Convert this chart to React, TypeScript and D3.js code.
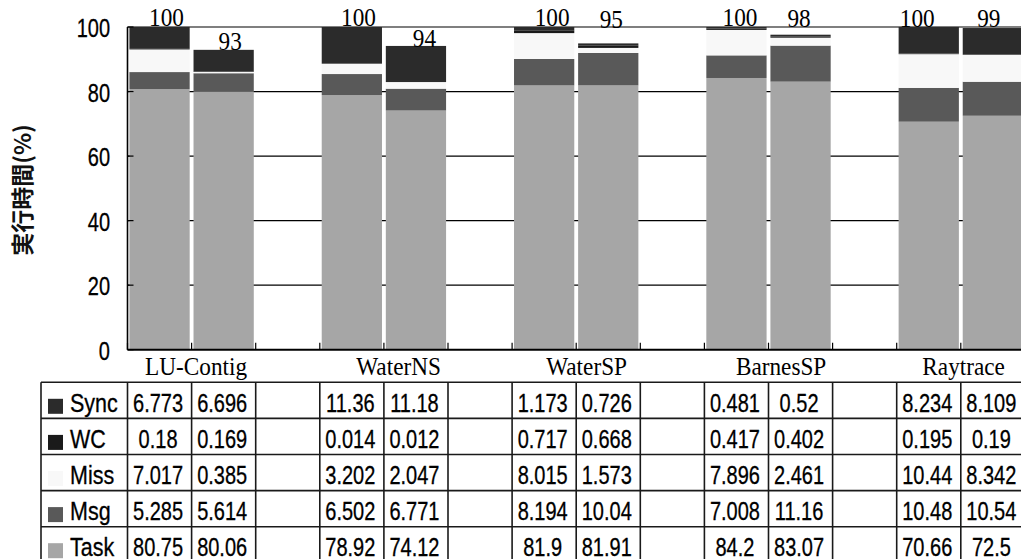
import React from "react";
import * as d3 from "d3";

const categories = ["LU-Contig", "WaterNS", "WaterSP", "BarnesSP", "Raytrace"];
const seriesKeys = ["Task", "Msg", "Miss", "WC", "Sync"];
const tableOrder = ["Sync", "WC", "Miss", "Msg", "Task"];

const syncValues = [6.773, 6.696, 11.36, 11.18, 1.173, 0.726, 0.481, 0.52, 8.234, 8.109];
const wcValues = [0.18, 0.169, 0.014, 0.012, 0.717, 0.668, 0.417, 0.402, 0.195, 0.19];
const missValues = [7.017, 0.385, 3.202, 2.047, 8.015, 1.573, 7.896, 2.461, 10.44, 8.342];
const msgValues = [5.285, 5.614, 6.502, 6.771, 8.194, 10.04, 7.008, 11.16, 10.48, 10.54];
const taskValues = [80.75, 80.06, 78.92, 74.12, 81.9, 81.91, 84.2, 83.07, 70.66, 72.5];
const totalLabels = ["100", "93", "100", "94", "100", "95", "100", "98", "100", "99"];
const yTicks = [0, 20, 40, 60, 80, 100];

// layout (not data)
const colors: Record<string, string> = {
  Task: "#a6a6a6",
  Msg: "#595959",
  Miss: "#f8f8f8",
  WC: "#1a1a1a",
  Sync: "#2b2b2b",
};
const labelNudges = [
  [7, -1], [6.5, 0], [6.7, -1], [8.5, 1], [8, -1],
  [3, -15], [3.5, -1], [-1.5, -8], [-11.5, 0], [-4, -0.7],
];
const catLabelDx = [5.5, 15.7, 11.4, 13.6, 3.8];

const W = 1021;
const H = 559;
const plotLeft = 127.5;
const groupStep = 192.3;
const plotRight = plotLeft + groupStep * categories.length;
const y0 = 349.7;
const y100 = 27;
const tableLeft = 41;
const tableTop = 382.3;
const rowH = 36.1;

const valuesByKey: Record<string, number[]> = {
  Sync: syncValues,
  WC: wcValues,
  Miss: missValues,
  Msg: msgValues,
  Task: taskValues,
};

const SANS = "'Liberation Sans', Arial, sans-serif";
const SERIF = "'Liberation Serif', 'Times New Roman', serif";

function CText(props: {
  x: number; y: number; anchor?: string; size: number; family: string; sx?: number; sw?: number; children: any;
}) {
  const { x, y, anchor = "middle", size, family, sx = 1, sw = 0, children } = props;
  return (
    <text
      transform={`translate(${x},${y}) scale(${sx},1)`}
      textAnchor={anchor as any}
      fontSize={size}
      fontFamily={family}
      fill="#000"
      stroke={sw > 0 ? "#000" : "none"}
      strokeWidth={sw}
    >
      {children}
    </text>
  );
}

export default function App() {
  const xGroup = d3.scaleBand<string>().domain(categories).range([plotLeft, plotRight]);
  const xSub = d3
    .scaleBand<string>()
    .domain(["a", "b", "gap"])
    .range([0, xGroup.bandwidth()])
    .paddingInner(0.06)
    .paddingOuter(0.03);
  const y = d3.scaleLinear().domain([0, 100]).range([y0, y100]);

  const bars = categories.flatMap((c, gi) =>
    ["a", "b"].map((s, si) => {
      const idx = gi * 2 + si;
      const row: any = { cat: c, sub: s, idx };
      seriesKeys.forEach((k) => (row[k] = valuesByKey[k][idx]));
      return row;
    })
  );
  const stacked = d3.stack<any>().keys(seriesKeys)(bars);

  const slotStep = xGroup.bandwidth() / 3;
  const slotEdges = d3.range(0, categories.length * 3 + 1).map((k) => plotLeft + k * slotStep);
  const rowEdges = d3.range(0, tableOrder.length + 1).map((k) => tableTop + k * rowH);

  const barX = (d: any) => (xGroup(d.cat) as number) + (xSub(d.sub) as number);

  return (
    <svg
      width={W}
      height={H}
      style={{ position: "absolute", left: 0, top: 0, background: "#fff" }}
    >
      <rect x={0} y={0} width={W} height={H} fill="#fff" />
      {/* gridlines */}
      {yTicks.filter((t) => t > 0).map((t) => (
        <line key={"g" + t} x1={plotLeft} x2={plotRight} y1={y(t)} y2={y(t)} stroke="#000" strokeWidth={1.2} />
      ))}
      {/* bars */}
      {stacked.map((layer) => (
        <g key={layer.key} fill={colors[layer.key]}>
          {layer.map((d: any, i: number) => (
            <rect
              key={i}
              x={barX(d.data)}
              width={xSub.bandwidth()}
              y={y(d[1])}
              height={Math.max(0, y(d[0]) - y(d[1]))}
            />
          ))}
        </g>
      ))}
      {/* axes */}
      <line x1={plotLeft} x2={plotLeft} y1={y100} y2={y0} stroke="#000" strokeWidth={1.6} />
      <line x1={plotLeft} x2={plotRight} y1={y0} y2={y0} stroke="#000" strokeWidth={2} />
      {yTicks.map((t) => (
        <g key={"yt" + t}>
          <line x1={plotLeft} x2={plotLeft + 6} y1={y(t)} y2={y(t)} stroke="#000" strokeWidth={1.2} />
          <CText x={110} y={y(t) + 10} anchor="end" size={25} family={SANS} sx={0.8} sw={0.3}>
            {t}
          </CText>
        </g>
      ))}
      {slotEdges.map((x, i) => (
        <line key={"xt" + i} x1={x} x2={x} y1={y0} y2={y0 - 7} stroke="#000" strokeWidth={1.2} />
      ))}
      {/* total labels */}
      {bars.map((d, i) => {
        const total = seriesKeys.reduce((s, k) => s + d[k], 0);
        const cx = barX(d) + xSub.bandwidth() / 2 + labelNudges[i][0];
        return (
          <CText key={"tl" + i} x={cx} y={y(total) + labelNudges[i][1]} size={25} family={SERIF} sx={0.93}>
            {totalLabels[i]}
          </CText>
        );
      })}
      {/* category labels */}
      {categories.map((c, gi) => {
        const cx = (xGroup(c) as number) + slotStep - 1 + catLabelDx[gi];
        return (
          <CText key={"cl" + c} x={cx} y={375} size={25} family={SERIF} sx={0.93}>
            {c}
          </CText>
        );
      })}
      {/* y axis title */}
      <text
        transform="translate(21,190) rotate(-90)"
        textAnchor="middle"
        dominantBaseline="central"
        fontSize={23}
        fontWeight={700}
        fontFamily="'Noto Sans CJK JP', sans-serif"
        fill="#111"
      >
        実行時間(%)
      </text>
      {/* table */}
      {rowEdges.map((ry, i) => (
        <line key={"rh" + i} x1={tableLeft} x2={plotRight} y1={ry} y2={ry} stroke="#1a1a1a" strokeWidth={1.6} />
      ))}
      <line x1={tableLeft} x2={tableLeft} y1={tableTop} y2={H + 10} stroke="#1a1a1a" strokeWidth={1.6} />
      {slotEdges.map((x, i) => (
        <line key={"cv" + i} x1={x} x2={x} y1={tableTop} y2={H + 10} stroke="#1a1a1a" strokeWidth={1.6} />
      ))}
      {tableOrder.map((k, ri) => {
        const top = rowEdges[ri];
        return (
          <g key={"row" + k}>
            <rect x={48} y={top + 16.5} width={15} height={15} fill={colors[k]} />
            <CText x={70} y={top + 29.5} anchor="start" size={25} family={SANS} sx={0.86} sw={0.3}>
              {k}
            </CText>
            {bars.map((d, bi) => (
              <CText
                key={bi}
                x={barX(d) + xSub.bandwidth() / 2 - 1.5}
                y={top + 29.5}
                size={25}
                family={SANS}
                sx={0.8}
                sw={0.3}
              >
                {String(valuesByKey[k][bi])}
              </CText>
            ))}
          </g>
        );
      })}
    </svg>
  );
}
